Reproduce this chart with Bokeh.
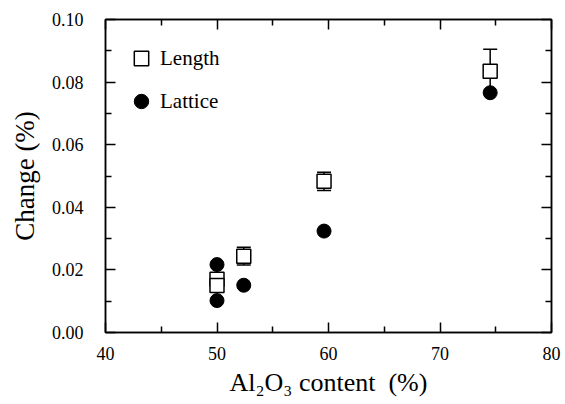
from bokeh.plotting import figure
from bokeh.models import (LinearAxis, Range1d, Whisker, TeeHead, ColumnDataSource,
                          Legend, LegendItem, FixedTicker, CustomLabelingPolicy)
from bokeh.embed import file_html
from bokeh.resources import INLINE

# ---- data ----
length_x = [50.0, 50.0, 52.4, 59.6, 74.5]
length_y = [0.017, 0.015, 0.0244, 0.0483, 0.0835]
length_err = [0.002, 0.002, 0.0028, 0.0029, 0.007]
lattice_x = [50.0, 50.0, 52.4, 59.6, 74.5]
lattice_y = [0.0217, 0.0102, 0.0151, 0.0324, 0.0766]
x_ticks = [40, 50, 60, 70, 80]
x_minor = [45, 55, 65, 75]
y_ticks = [0.00, 0.02, 0.04, 0.06, 0.08, 0.10]
y_minor = [0.01, 0.03, 0.05, 0.07, 0.09]
y_tick_labels = {0.0: "0.00", 0.02: "0.02", 0.04: "0.04", 0.06: "0.06", 0.08: "0.08", 0.1: "0.10"}
x_title = "Al\u2082O\u2083 content\u00a0\u00a0(%)"
y_title = "Change (%)"

FONT = "Liberation Serif"

p = figure(width=565, height=404, output_backend="svg", toolbar_location=None,
           x_range=Range1d(40, 80), y_range=Range1d(0, 0.10),
           min_border_left=105, min_border_right=14, min_border_top=19, min_border_bottom=72)
p.background_fill_color = "white"
p.border_fill_color = "white"
p.grid.visible = False
p.outline_line_color = "black"
p.outline_line_width = 1.5

src_len = ColumnDataSource(dict(x=length_x, y=length_y,
                                lo=[v - e for v, e in zip(length_y, length_err)],
                                hi=[v + e for v, e in zip(length_y, length_err)]))
src_lat = ColumnDataSource(dict(x=lattice_x, y=lattice_y))

wh = Whisker(source=src_len, base="x", upper="hi", lower="lo", line_color="black", line_width=1.5,
             upper_head=TeeHead(size=14, line_color="black", line_width=1.5),
             lower_head=TeeHead(size=14, line_color="black", line_width=1.5))
p.add_layout(wh)

r_lat = p.scatter("x", "y", source=src_lat, marker="circle", size=14,
                  fill_color="black", line_color="black")
r_len = p.scatter("x", "y", source=src_len, marker="square", size=14,
                  fill_color="white", line_color="black", line_width=1.5)

hide_labels = CustomLabelingPolicy(code="""
for (const i of Array.from(indices)) { indices.unset(i) }
return indices
""")

def style_axis(ax, labels=True):
    ax.axis_line_width = 1.5
    ax.axis_line_color = "black"
    ax.major_tick_in = 10
    ax.major_tick_out = 0
    ax.minor_tick_in = 6
    ax.minor_tick_out = 0
    ax.major_tick_line_width = 1.5
    ax.minor_tick_line_width = 1.5
    ax.major_tick_line_color = "black"
    ax.minor_tick_line_color = "black"
    ax.major_label_text_font = FONT
    ax.major_label_text_font_size = "18px" if labels else "0px"
    ax.major_label_text_color = "black"
    if not labels:
        ax.major_label_policy = hide_labels
        ax.major_label_standoff = 0

bottom = p.xaxis[0]
left = p.yaxis[0]
bottom.ticker = FixedTicker(ticks=x_ticks, minor_ticks=x_minor)
left.ticker = FixedTicker(ticks=y_ticks, minor_ticks=y_minor)
left.major_label_overrides = y_tick_labels
style_axis(bottom)
style_axis(left)
bottom.major_label_standoff = 14
left.major_label_standoff = 22

bottom.axis_label = x_title
left.axis_label = y_title
for ax, size in ((bottom, "26px"), (left, "27px")):
    ax.axis_label_text_font = FONT
    ax.axis_label_text_font_size = size
    ax.axis_label_text_font_style = "normal"
    ax.axis_label_text_color = "black"
bottom.axis_label_standoff = 5
left.axis_label_standoff = 9

top = LinearAxis(ticker=FixedTicker(ticks=x_ticks, minor_ticks=x_minor))
style_axis(top, labels=False)
p.add_layout(top, "above")
right = LinearAxis(ticker=FixedTicker(ticks=y_ticks, minor_ticks=y_minor))
style_axis(right, labels=False)
p.add_layout(right, "right")

legend = Legend(items=[LegendItem(label="Length", renderers=[r_len]),
                       LegendItem(label="Lattice", renderers=[r_lat])],
                location=(18, 213), orientation="vertical")
legend.border_line_color = None
legend.background_fill_alpha = 0
legend.padding = 0
legend.margin = 0
legend.glyph_width = 36
legend.glyph_height = 36
legend.spacing = 7
legend.label_standoff = 1
legend.label_text_font = FONT
legend.label_text_font_size = "21px"
legend.label_text_color = "black"
p.add_layout(legend)

open("out.html", "w").write(file_html(p, INLINE))
